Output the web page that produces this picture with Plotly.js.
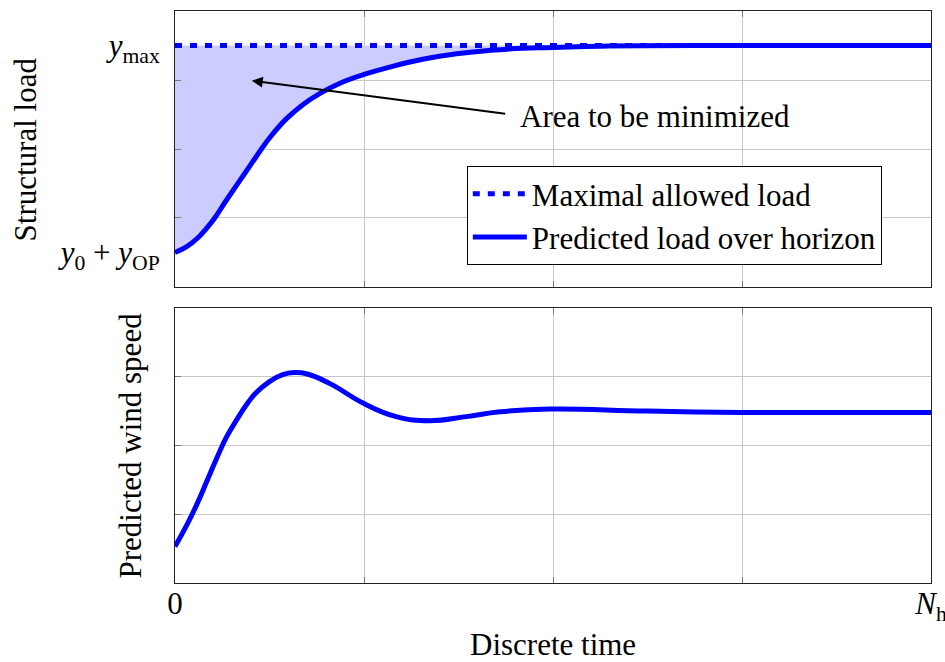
<!DOCTYPE html>
<html>
<head>
<meta charset="utf-8">
<script src="https://cdn.plot.ly/plotly-3.0.1.min.js"></script>
<style>html,body{margin:0;padding:0;background:#fff;}#chart{width:945px;height:662px;}</style>
</head>
<body>
<div id="chart"></div>
<script>
// ---- data ----
const loadTime  = [0, 0.06, 0.12, 0.17, 0.21, 0.27, 0.33, 0.40, 0.46, 0.50, 0.59, 0.68, 0.77, 0.87, 1.00, 1.14, 1.31, 1.49, 1.67, 1.84, 2.00, 2.25, 3.00, 4.00];
const loadValue = [0.50, 0.58, 0.71, 0.86, 1.00, 1.25, 1.49, 1.77, 2.01, 2.16, 2.44, 2.65, 2.81, 2.95, 3.08, 3.19, 3.30, 3.38, 3.43, 3.46, 3.47, 3.49, 3.50, 3.50];
const maxTime   = [0, 4];
const maxValue  = [3.5, 3.5];
const windTime  = [0, 0.06, 0.115, 0.17, 0.22, 0.27, 0.33, 0.38, 0.43, 0.50, 0.57, 0.63, 0.70, 0.82, 1.00, 1.17, 1.35, 1.54, 1.72, 1.98, 2.50, 3.00, 3.50, 4.00];
const windValue = [0.53, 0.83, 1.14, 1.49, 1.81, 2.11, 2.39, 2.60, 2.77, 2.93, 3.03, 3.06, 3.04, 2.90, 2.61, 2.42, 2.36, 2.42, 2.49, 2.53, 2.50, 2.48, 2.48, 2.48];
const xTickVals = [0, 1, 2, 3, 4];
const xTickText = ['0', '', '', '', '<i>N</i><sub>h</sub>'];
const loadLabelVals = [0.5, 3.5];
const loadLabelText = ['<i>y</i><sub>0</sub> + <i>y</i><sub>OP</sub>', '<i>y</i><sub>max</sub>'];
const gridVals = [1, 2, 3];
const legendNames = ['Maximal allowed load', 'Predicted load over horizon'];

const FONT = 'Liberation Serif, Times New Roman, serif';
const FS = 31;
const BLUE = '#0000ff';
const LW = 5;

const traces = [
  {x: maxTime, y: maxValue, xaxis: 'x', yaxis: 'y', mode: 'lines', name: legendNames[0],
   line: {color: BLUE, width: LW, dash: '7px,8px'}},
  {x: loadTime, y: loadValue, xaxis: 'x', yaxis: 'y', mode: 'lines', name: legendNames[1],
   showlegend: false,
   line: {color: BLUE, width: LW, shape: 'spline', smoothing: 1.3}, fill: 'tonexty', fillcolor: '#ccccff'},
  {x: [null], y: [null], xaxis: 'x', yaxis: 'y', mode: 'lines', name: legendNames[1],
   line: {color: BLUE, width: LW}},
  {x: windTime, y: windValue, xaxis: 'x2', yaxis: 'y2', mode: 'lines', showlegend: false,
   line: {color: BLUE, width: LW, shape: 'spline', smoothing: 1.3}}
];

const frame = {
  showline: true, linecolor: '#222', linewidth: 1, mirror: true, zeroline: false, fixedrange: true
};
const gridMinor = {tickmode: 'array', tickvals: gridVals, showgrid: true, gridcolor: '#c8c8c8',
  gridwidth: 1, ticks: 'inside', ticklen: 6, tickcolor: '#777'};

const yGridOnly = Object.assign({}, frame, {
  range: [0, 4], tickmode: 'array', tickvals: [], showgrid: false, ticks: '',
  minor: gridMinor
});

const xBase = Object.assign({}, frame, {
  range: [0, 4], tickmode: 'array', tickvals: xTickVals,
  showgrid: true, gridcolor: '#c8c8c8', gridwidth: 1,
  ticks: 'inside', ticklen: 6, tickcolor: '#777', mirror: 'ticks'
});

const layout = {
  width: 945, height: 662,
  margin: {l: 175, r: 14, t: 11, b: 79},
  paper_bgcolor: '#fff', plot_bgcolor: '#fff',
  font: {family: FONT, size: FS, color: '#000'},
  showlegend: true,
  legend: {x: 0.386, y: 0.729, xanchor: 'left', yanchor: 'top', traceorder: 'normal',
           bordercolor: '#000', borderwidth: 1, bgcolor: '#fff',
           font: {family: FONT, size: FS}, itemwidth: 54, tracegroupgap: 0},
  xaxis: Object.assign({}, xBase, {anchor: 'y', ticktext: ['', '', '', '', ''], matches: 'x2'}),
  yaxis: Object.assign({}, frame, {
    domain: [0.5175, 1], anchor: 'x', range: [0, 4],
    tickmode: 'array', tickvals: loadLabelVals, ticktext: loadLabelText,
    showgrid: false, ticks: '', ticklabelstandoff: 8,
    tickfont: {family: FONT, size: FS}, minor: gridMinor
  }),
  xaxis2: Object.assign({}, xBase, {anchor: 'y2', ticktext: xTickText, ticklabeloverflow: 'allow',
           ticklabelstandoff: -7,
           tickfont: {family: FONT, size: FS}}),
  yaxis2: Object.assign({}, yGridOnly, {domain: [0, 0.4808], anchor: 'x2'}),
  annotations: [
    {xref: 'x', yref: 'y', axref: 'x', ayref: 'y', x: 0.406, y: 2.99, ax: 1.755, ay: 2.507,
     showarrow: true, arrowhead: 2, arrowsize: 1.1, arrowwidth: 2, arrowcolor: '#000', text: ''},
    {xref: 'x', yref: 'y', x: 1.815, y: 2.478, xanchor: 'left', yanchor: 'middle',
     showarrow: false, text: 'Area to be minimized', font: {family: FONT, size: FS}},
    {xref: 'paper', yref: 'paper', x: 0.5, y: -0.107, xanchor: 'center', yanchor: 'middle',
     showarrow: false, text: 'Discrete time', font: {family: FONT, size: FS}},
    {xref: 'paper', yref: 'paper', x: -0.198, y: 0.7585, xanchor: 'center', yanchor: 'middle',
     showarrow: false, textangle: -90, text: 'Structural load', font: {family: FONT, size: FS}},
    {xref: 'paper', yref: 'paper', x: -0.0595, y: 0.2404, xanchor: 'center', yanchor: 'middle',
     showarrow: false, textangle: -90, text: 'Predicted wind speed', font: {family: FONT, size: FS}}
  ]
};

Plotly.newPlot('chart', traces, layout, {staticPlot: true, displayModeBar: false});
</script>
</body>
</html>
